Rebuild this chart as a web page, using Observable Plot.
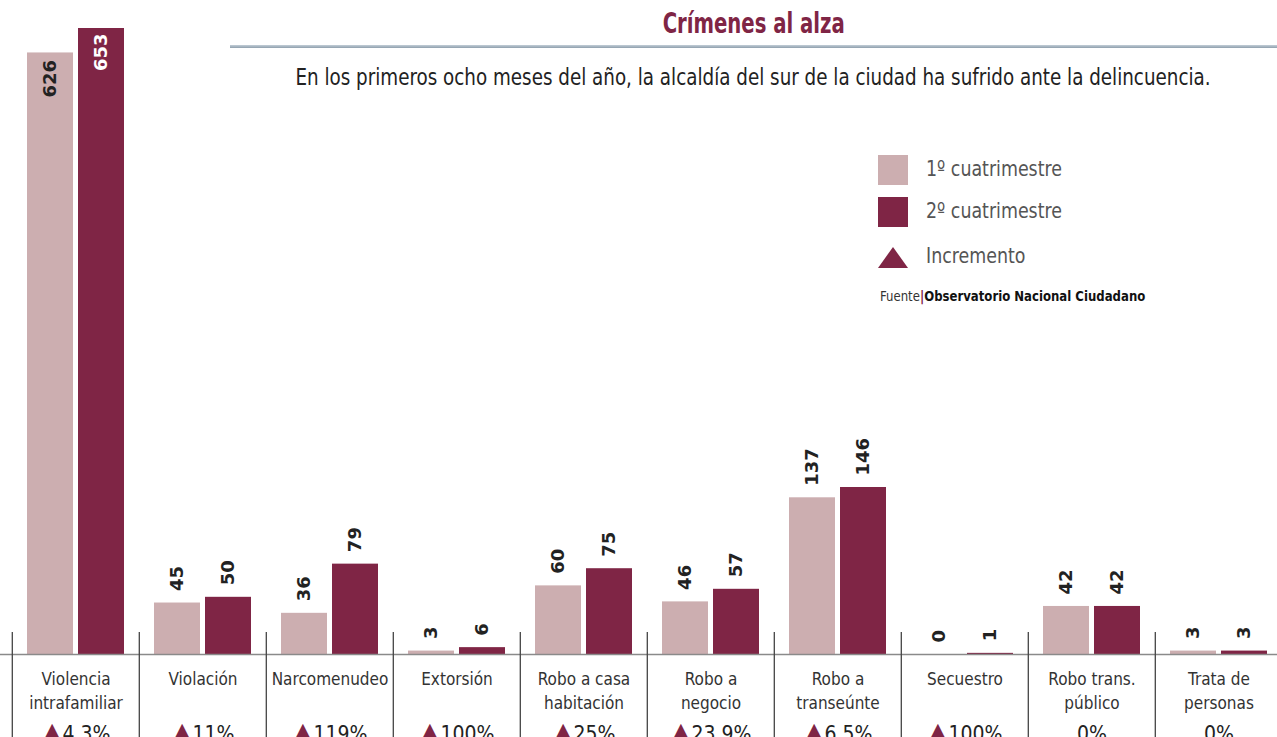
<!DOCTYPE html>
<html>
<head>
<meta charset="utf-8">
<script src="https://cdn.jsdelivr.net/npm/d3@7"></script>
<script src="https://cdn.jsdelivr.net/npm/@observablehq/plot@0.6"></script>
<style>
  body { margin: 0; background: #fff; }
  #wrap { position: relative; width: 1277px; height: 737px; overflow: hidden; background: #fff; }
  #chart { position: absolute; left: 0; top: 0; }
  .cond { font-family: "DejaVu Sans Condensed", "Liberation Sans Narrow", "Roboto Condensed", Roboto, sans-serif; }
  .sx { display: inline-block; white-space: nowrap; }
  #title { position: absolute; left: 230px; right: 0; top: 7px; text-align: center; font-size: 28px; font-weight: bold; color: #7f2545; }
  #title .sx { transform: scaleX(0.78); transform-origin: 50% 50%; }
  #rule { position: absolute; left: 230px; right: 0; top: 45px; height: 3px; background: linear-gradient(#c3ced7, #8e9fad); }
  #subtitle { position: absolute; left: 230px; right: 0; top: 64px; text-align: center; font-size: 23px; color: #222; }
  #subtitle .sx { transform: scaleX(0.885); transform-origin: 50% 50%; }
  .lg { position: absolute; left: 878px; }
  .sw { position: absolute; width: 30px; height: 30px; left: 0; }
  .lt { position: absolute; left: 48px; font-size: 22px; color: #555; white-space: nowrap; transform: scaleX(0.88); transform-origin: 0 50%; }
  #src { position: absolute; left: 880px; top: 288px; font-size: 14px; color: #333; white-space: nowrap; transform: scaleX(0.93); transform-origin: 0 50%; }
</style>
</head>
<body>
<div id="wrap">
  <div id="chart"></div>
  <div id="title" class="cond"><span class="sx">Crímenes al alza</span></div>
  <div id="rule"></div>
  <div id="subtitle" class="cond"><span class="sx">En los primeros ocho meses del año, la alcaldía del sur de la ciudad ha sufrido ante la delincuencia.</span></div>
  <div class="lg cond" style="top:155px"><div class="sw" style="background:#ccaeb0"></div><div class="lt" style="top:1px">1º cuatrimestre</div></div>
  <div class="lg cond" style="top:197px"><div class="sw" style="background:#7f2545"></div><div class="lt" style="top:1px">2º cuatrimestre</div></div>
  <div class="lg cond" style="top:243px">
    <svg class="sw" width="30" height="24" viewBox="0 0 30 24"><polygon points="15,1 30,22 0,22" fill="#7f2545"/></svg>
    <div class="lt" style="top:0px">Incremento</div>
  </div>
  <div id="src" class="cond">Fuente<b style="color:#7f2545">|</b><b style="color:#111">Observatorio Nacional Ciudadano</b></div>
</div>
<script>
// ---- data ----
const categories = ["Violencia intrafamiliar", "Violación", "Narcomenudeo", "Extorsión", "Robo a casa habitación", "Robo a negocio", "Robo a transeúnte", "Secuestro", "Robo trans. público", "Trata de personas"];
const tickLabels = ["Violencia\nintrafamiliar", "Violación", "Narcomenudeo", "Extorsión", "Robo a casa\nhabitación", "Robo a\nnegocio", "Robo a\ntranseúnte", "Secuestro", "Robo trans.\npúblico", "Trata de\npersonas"];
const cuatrimestre1 = [626, 45, 36, 3, 60, 46, 137, 0, 42, 3];
const cuatrimestre2 = [653, 50, 79, 6, 75, 57, 146, 1, 42, 3];
const incremento = ["4.3%", "11%", "119%", "100%", "25%", "23.9%", "6.5%", "100%", "0%", "0%"];

const LIGHT = "#ccaeb0", DARK = "#7f2545";
const BREAK = 146; // scale break: bars above this are compressed

const data = categories.map((c, i) => ({
  cat: c, label: tickLabels[i], q1: cuatrimestre1[i], q2: cuatrimestre2[i],
  inc: incremento[i], up: cuatrimestre2[i] > cuatrimestre1[i]
}));

const FONT = '"DejaVu Sans Condensed", "Liberation Sans Narrow", "Roboto Condensed", Roboto, sans-serif';
const NUMFONT = '"DejaVu Sans", Verdana, sans-serif';

const chart = Plot.plot({
  width: 1277,
  height: 737,
  marginTop: 0,
  marginBottom: 83,
  marginLeft: 0,
  marginRight: 0,
  x: { type: "band", domain: categories, range: [10, 1284], padding: 0, axis: null },
  y: { type: "linear", domain: [0, BREAK, 653], range: [654, 487, 28], axis: null },
  style: { fontFamily: FONT, background: "transparent" },
  marks: [
    Plot.barY(data, { x: "cat", y: "q1", fill: LIGHT, insetLeft: 15, insetRight: 66 }),
    Plot.barY(data, { x: "cat", y: "q2", fill: DARK, insetLeft: 66, insetRight: 15 }),
    Plot.ruleY([0], { stroke: "#8a8a8a", strokeWidth: 1.5 }),
    Plot.ruleX(categories, { x: d => d, dx: -63.7, insetTop: 632, insetBottom: -83, stroke: "#444", strokeWidth: 1.3 }),
    // value labels above bars
    Plot.text(data.filter(d => d.q1 <= BREAK), { x: "cat", y: "q1", text: d => String(d.q1), rotate: -90, textAnchor: "start", lineAnchor: "middle", dx: -25.5, dy: -12, fontFamily: NUMFONT, fontWeight: "bold", fontSize: 18, fill: "#222" }),
    Plot.text(data.filter(d => d.q2 <= BREAK), { x: "cat", y: "q2", text: d => String(d.q2), rotate: -90, textAnchor: "start", lineAnchor: "middle", dx: 25.5, dy: -12, fontFamily: NUMFONT, fontWeight: "bold", fontSize: 18, fill: "#222" }),
    // value labels inside the tall bars
    Plot.text(data.filter(d => d.q1 > BREAK), { x: "cat", y: "q1", text: d => String(d.q1), rotate: -90, textAnchor: "end", lineAnchor: "middle", dx: -25.5, dy: 7, fontFamily: NUMFONT, fontWeight: "bold", fontSize: 18, fill: "#222" }),
    Plot.text(data.filter(d => d.q2 > BREAK), { x: "cat", y: "q2", text: d => String(d.q2), rotate: -90, textAnchor: "end", lineAnchor: "middle", dx: 25.5, dy: 5, fontFamily: NUMFONT, fontWeight: "bold", fontSize: 18, fill: "#fff" }),
    // category labels
    Plot.text(data, { x: "cat", text: "label", frameAnchor: "bottom", lineAnchor: "top", dy: 14, fontSize: 17, lineHeight: 1.4, fill: "#333" }),
    // increments
    Plot.text(data, { x: "cat", text: d => (d.up ? "▲" : "") + d.inc, frameAnchor: "bottom", lineAnchor: "top", dy: 72, fontSize: 21, fill: "#222" })
  ]
});

document.getElementById("chart").appendChild(chart);

// colour the increment triangle
d3.select(chart).selectAll("text").each(function () {
  const t = this.textContent;
  if (t.startsWith("▲") && !this.querySelector("tspan")) {
    const rest = t.slice(1);
    this.textContent = "";
    d3.select(this).append("tspan").attr("fill", DARK).attr("font-family", '"DejaVu Sans", sans-serif').attr("font-size", "27px").text("▲");
    d3.select(this).append("tspan").text(rest);
  }
});
</script>
</body>
</html>
